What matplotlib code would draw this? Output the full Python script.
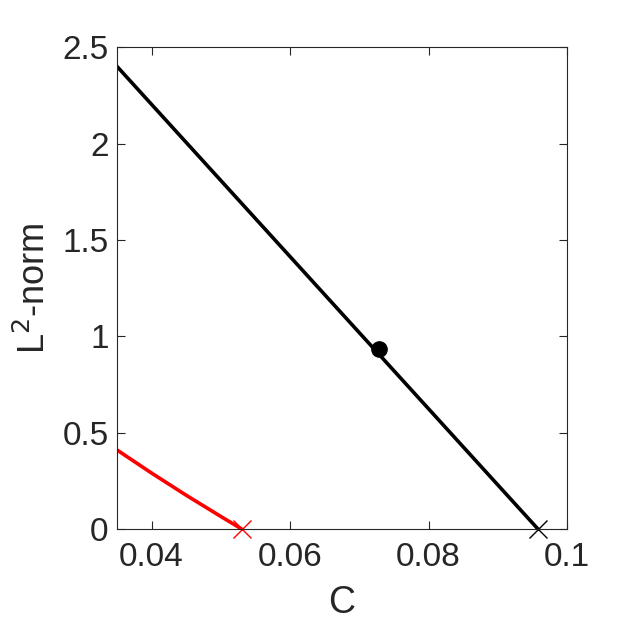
import matplotlib
matplotlib.use("Agg")
import matplotlib.pyplot as plt

# branch data
black_c = [0.035, 0.0958]
black_norm = [2.40, 0.0]
red_c = [0.035, 0.040, 0.045, 0.050, 0.053]
red_norm = [0.41, 0.29, 0.175, 0.065, 0.0]
point_c = [0.0729]
point_norm = [0.934]
end_c = [0.053, 0.0958]
end_norm = [0.0, 0.0]
end_colors = ['red', 'black']

plt.rcParams['font.family'] = ['Liberation Sans', 'DejaVu Sans']

fig = plt.figure(figsize=(6.25, 6.25), dpi=100)
ax = fig.add_axes([0.1872, 0.1536, 0.72, 0.771])

ax.plot(black_c, black_norm, color='black', lw=2.6)
ax.plot(red_c, red_norm, color='red', lw=2.6)
ax.plot(point_c, point_norm, 'o', color='black', ms=11)
for c, n, col in zip(end_c, end_norm, end_colors):
    ax.plot(c, n, 'x', color=col, ms=13, mew=1.0, clip_on=False)

ax.set_xlim(0.035, 0.1)
ax.set_ylim(0, 2.5)
ax.set_xticks([0.04, 0.06, 0.08, 0.1])
ax.set_xticklabels(['0.04', '0.06', '0.08', '0.1'])
ax.set_yticks([0, 0.5, 1, 1.5, 2, 2.5])
ax.set_yticklabels(['0', '0.5', '1', '1.5', '2', '2.5'])
ax.tick_params(direction='in', top=True, right=True, labelsize=24,
               length=6, width=0.8, colors='#262626')
ax.tick_params(axis='x', pad=9)
ax.tick_params(axis='y', pad=6)
for s in ax.spines.values():
    s.set_linewidth(0.8)
    s.set_color('#262626')

ax.set_xlabel('C', fontsize=27, color='#262626', labelpad=9)
ax.set_ylabel('L$^2$-norm', fontsize=26, color='#262626', labelpad=7)

plt.savefig('out.png', dpi=100)
